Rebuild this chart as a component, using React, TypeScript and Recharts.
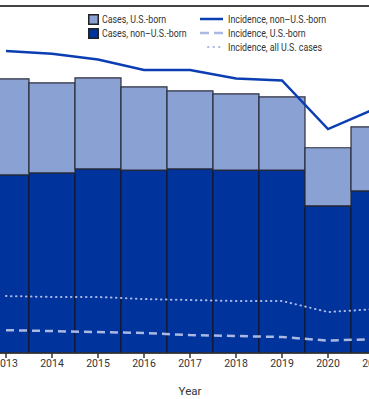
import { ComposedChart, Bar, Line, XAxis, YAxis } from 'recharts'

const years = ['2013', '2014', '2015', '2016', '2017', '2018', '2019', '2020', '2021']
const casesNonUsBorn = [6230, 6300, 6440, 6400, 6440, 6400, 6400, 5150, 5670]
const casesUsBorn = [3360, 3150, 3185, 2910, 2730, 2665, 2560, 2030, 2240]
const incidenceNonUsBorn = [15.85, 15.7, 15.4, 14.85, 14.85, 14.4, 14.3, 11.75, 12.8]
const incidenceUsBorn = [1.2, 1.15, 1.1, 1.05, 0.94, 0.89, 0.84, 0.65, 0.73]
const incidenceAll = [2.99, 2.94, 2.94, 2.83, 2.78, 2.73, 2.73, 2.15, 2.3]

const LIGHT = '#8aa1d4'
const DARK = '#00339c'
const LINE_DARK = '#0b3db3'
const LINE_LIGHT = '#a9b9e4'
const TEXT = '#333'
const FONT = "Roboto, sans-serif"

const chartData = years.map((year, i) => ({
  year,
  nonUsBorn: casesNonUsBorn[i],
  usBorn: casesUsBorn[i],
  incNonUs: incidenceNonUsBorn[i],
  incUs: incidenceUsBorn[i],
  incAll: incidenceAll[i],
}))

const LegendBox = ({ fill }: { fill: string }) => (
  <svg width={11} height={11} style={{ marginRight: 3, flexShrink: 0 }}>
    <rect x={0.75} y={0.75} width={9.5} height={9.5} fill={fill} stroke="#222" strokeWidth={1.5} />
  </svg>
)

const LegendLine = ({ kind }: { kind: 'solid' | 'dash' | 'dot' }) => (
  <svg width={24} height={6} style={{ marginRight: 5, flexShrink: 0 }}>
    {kind === 'solid' && <line x1={1} y1={3} x2={24} y2={3} stroke={LINE_DARK} strokeWidth={2.5} />}
    {kind === 'dash' && <line x1={1} y1={3} x2={24} y2={3} stroke={LINE_LIGHT} strokeWidth={2.5} strokeDasharray="9 5" />}
    {kind === 'dot' && <line x1={9} y1={3} x2={24} y2={3} stroke={LINE_LIGHT} strokeWidth={2} strokeDasharray="0.5 5" strokeLinecap="round" />}
  </svg>
)

const Label = ({ text }: { text: string }) => (
  <span style={{ display: 'inline-block', whiteSpace: 'nowrap', transform: 'scaleX(0.84)', transformOrigin: 'left center' }}>{text}</span>
)

const rowStyle = { position: 'absolute', display: 'flex', alignItems: 'center', height: 14 } as const

export default function App() {
  return (
    <div style={{ position: 'fixed', left: 0, top: 0, width: 369, height: 399, overflow: 'hidden', background: '#fff', fontFamily: FONT }}>
      <div style={{ position: 'absolute', left: 0, top: 5, width: 369, height: 1.5, background: '#444' }} />
      <ComposedChart
        width={414}
        height={399}
        data={chartData}
        margin={{ top: 10, right: 0, bottom: 0, left: 0 }}
        barCategoryGap={0}
        barGap={0}
        style={{ position: 'absolute', left: -17, top: 0 }}
      >
        <XAxis
          dataKey="year"
          height={46}
          tickSize={5}
          axisLine={{ stroke: '#333', strokeWidth: 1.5 }}
          tickLine={{ stroke: '#333', strokeWidth: 1.5 }}
          tick={{ fontSize: 10.5, fill: TEXT, fontFamily: FONT }}
          interval={0}
          label={{ value: 'Year', position: 'insideBottom', offset: 4, fontSize: 11.5, fill: TEXT, fontFamily: FONT }}
        />
        <YAxis yAxisId="cases" domain={[0, 12000]} hide />
        <YAxis yAxisId="rate" orientation="right" domain={[0, 18]} hide />
        <Bar yAxisId="cases" dataKey="nonUsBorn" stackId="a" fill={DARK} stroke="#151a2e" strokeWidth={1.2} isAnimationActive={false} />
        <Bar yAxisId="cases" dataKey="usBorn" stackId="a" fill={LIGHT} stroke="#2a2d3a" strokeWidth={1.2} isAnimationActive={false} />
        <Line yAxisId="rate" dataKey="incNonUs" type="linear" stroke={LINE_DARK} strokeWidth={2.5} dot={false} isAnimationActive={false} />
        <Line yAxisId="rate" dataKey="incUs" type="linear" stroke={LINE_LIGHT} strokeWidth={2.5} strokeDasharray="8 5" dot={false} isAnimationActive={false} />
        <Line yAxisId="rate" dataKey="incAll" type="linear" stroke={LINE_LIGHT} strokeWidth={2} strokeDasharray="0.5 4.5" strokeLinecap="round" dot={false} isAnimationActive={false} />
      </ComposedChart>
      <div style={{ fontSize: 10.5, color: TEXT }}>
        <div style={{ ...rowStyle, left: 88, top: 12 }}>
          <LegendBox fill={LIGHT} />
          <Label text="Cases, U.S.-born" />
        </div>
        <div style={{ ...rowStyle, left: 88, top: 26 }}>
          <LegendBox fill={DARK} />
          <Label text="Cases, non–U.S.-born" />
        </div>
        <div style={{ ...rowStyle, left: 199, top: 12 }}>
          <LegendLine kind="solid" />
          <Label text="Incidence, non–U.S.-born" />
        </div>
        <div style={{ ...rowStyle, left: 199, top: 26 }}>
          <LegendLine kind="dash" />
          <Label text="Incidence, U.S.-born" />
        </div>
        <div style={{ ...rowStyle, left: 199, top: 40 }}>
          <LegendLine kind="dot" />
          <Label text="Incidence, all U.S. cases" />
        </div>
      </div>
    </div>
  )
}
